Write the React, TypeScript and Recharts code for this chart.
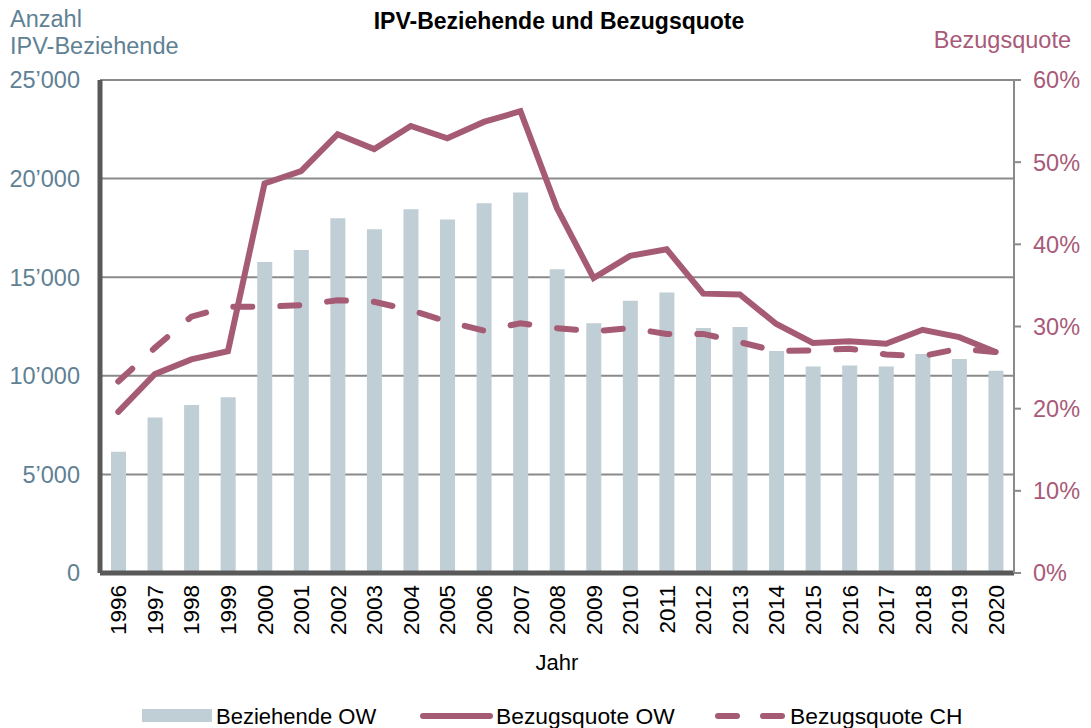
import {
  ComposedChart,
  Bar,
  Line,
  XAxis,
  YAxis,
  CartesianGrid,
} from 'recharts';

const years = [
  '1996', '1997', '1998', '1999', '2000', '2001', '2002', '2003', '2004',
  '2005', '2006', '2007', '2008', '2009', '2010', '2011', '2012', '2013',
  '2014', '2015', '2016', '2017', '2018', '2019', '2020',
];

// Anzahl IPV-Beziehende (OW)
const beziehendeOW = [
  6150, 7880, 8520, 8910, 15770, 16380, 17990, 17430, 18440, 17930, 18750,
  19300, 15400, 12660, 13810, 14230, 12420, 12470, 11260, 10470, 10520, 10470,
  11100, 10850, 10260,
];

// Bezugsquote in %
const quoteOW = [
  19.6, 24.2, 26.0, 27.0, 47.4, 48.9, 53.4, 51.6, 54.4, 52.9, 54.9, 56.2, 44.4,
  35.9, 38.6, 39.4, 34.0, 33.9, 30.3, 28.0, 28.2, 27.9, 29.6, 28.7, 26.9,
];
const quoteCH = [
  23.3, 27.4, 31.2, 32.4, 32.4, 32.6, 33.2, 33.0, 32.0, 30.6, 29.5, 30.4, 29.8,
  29.4, 29.8, 29.1, 29.1, 28.1, 27.0, 27.1, 27.3, 26.6, 26.4, 27.3, 26.9,
];

const leftTicks = [0, 5000, 10000, 15000, 20000, 25000];
const rightTicks = [0, 10, 20, 30, 40, 50, 60];

const data = years.map((y, i) => ({
  year: y,
  beziehende: beziehendeOW[i],
  quoteOW: quoteOW[i],
  quoteCH: quoteCH[i],
}));

const FONT = '"Liberation Sans", Arial, sans-serif';
const BAR = '#C0CED5';
const WINE = '#A65B74';
const LEFT_TXT = '#5F8194';
const RIGHT_TXT = '#A85A78';

const fmtLeft = (v: number) =>
  v === 0 ? '0' : `${Math.floor(v / 1000)}’${String(v % 1000).padStart(3, '0')}`;

const YearTick = (props: any) => {
  const { x, y, payload } = props;
  return (
    <text
      x={x}
      y={y}
      transform={`rotate(-90, ${x}, ${y})`}
      textAnchor="end"
      dy="0.36em"
      fontSize={22.5}
      fill="#000"
      fontFamily={FONT}
    >
      {payload.value}
    </text>
  );
};

const ChartLegend = () => (
  <svg width={1091} height={28} style={{ position: 'absolute', left: 0, top: 700 }}>
    <rect x={142} y={9} width={70} height={13} fill={BAR} />
    <text x={216} y={24} fontSize={22} fontFamily={FONT} fill="#000">Beziehende OW</text>
    <line x1={423} y1={16} x2={490} y2={16} stroke={WINE} strokeWidth={6} strokeLinecap="round" />
    <text x={496} y={24} fontSize={22.8} fontFamily={FONT} fill="#000">Bezugsquote OW</text>
    <line x1={718} y1={16} x2={786} y2={16} stroke={WINE} strokeWidth={6}
      strokeLinecap="round" strokeDasharray="19 26" />
    <text x={790} y={24} fontSize={22.8} fontFamily={FONT} fill="#000">Bezugsquote CH</text>
  </svg>
);

export default function App() {
  return (
    <div style={{ position: 'absolute', left: 0, top: 0, width: 1091, height: 728, background: '#fff', fontFamily: FONT }}>
      <ComposedChart
        width={1091}
        height={728}
        data={data}
        margin={{ top: 80, right: 0, bottom: 55, left: 0 }}
        barCategoryGap={0}
      >
        <text x={559} y={29} textAnchor="middle" fontSize={23} fontWeight="bold" fontFamily={FONT} fill="#000">
          IPV-Beziehende und Bezugsquote
        </text>
        <text x={10} y={27} fontSize={23.5} fontFamily={FONT} fill={LEFT_TXT}>Anzahl</text>
        <text x={10} y={54} fontSize={23.5} fontFamily={FONT} fill={LEFT_TXT}>IPV-Beziehende</text>
        <text x={1071} y={48} textAnchor="end" fontSize={23.5} fontFamily={FONT} fill={RIGHT_TXT}>Bezugsquote</text>
        <text x={557} y={670} textAnchor="middle" fontSize={22} fontFamily={FONT} fill="#000">Jahr</text>

        <CartesianGrid yAxisId="left" vertical={false} stroke="#8A8A8A" strokeWidth={2} />
        <XAxis
          dataKey="year"
          height={100}
          interval={0}
          axisLine={{ stroke: '#595959', strokeWidth: 5 }}
          tickLine={false}
          tickSize={0}
          tickMargin={12}
          tick={<YearTick />}
        />
        <YAxis
          yAxisId="left"
          orientation="left"
          width={100}
          domain={[0, 25000]}
          ticks={leftTicks}
          tickFormatter={fmtLeft}
          axisLine={{ stroke: '#595959', strokeWidth: 5 }}
          tickLine={false}
          tickSize={6}
          tickMargin={14}
          tick={{ fill: LEFT_TXT, fontSize: 23.5, fontFamily: FONT }}
        />
        <YAxis
          yAxisId="right"
          orientation="right"
          width={77}
          domain={[0, 60]}
          ticks={rightTicks}
          tickFormatter={(v: number) => `${v}%`}
          axisLine={{ stroke: '#8A8A8A', strokeWidth: 2 }}
          tickLine={{ stroke: '#8A8A8A', strokeWidth: 2 }}
          tickSize={7}
          tickMargin={12}
          tick={{ fill: RIGHT_TXT, fontSize: 23.5, fontFamily: FONT }}
        />
        <Bar yAxisId="left" dataKey="beziehende" fill={BAR} barSize={15} isAnimationActive={false} />
        <Line
          yAxisId="right"
          dataKey="quoteOW"
          stroke={WINE}
          strokeWidth={6}
          dot={false}
          strokeLinecap="round"
          isAnimationActive={false}
        />
        <Line
          yAxisId="right"
          dataKey="quoteCH"
          stroke={WINE}
          strokeWidth={6}
          strokeDasharray="19 28"
          strokeLinecap="round"
          dot={false}
          isAnimationActive={false}
        />
      </ComposedChart>
      <ChartLegend />
    </div>
  );
}
